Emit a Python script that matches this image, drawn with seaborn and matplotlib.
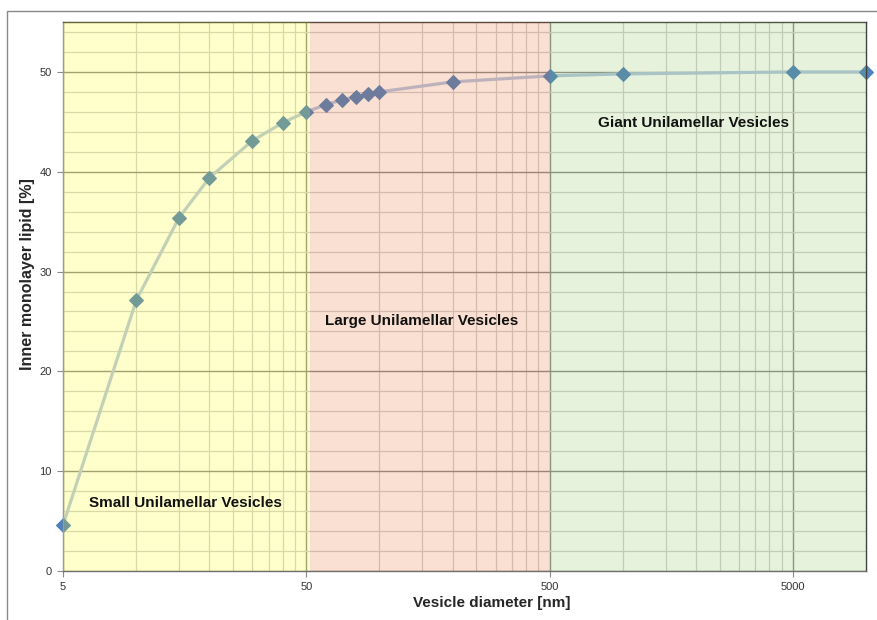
import matplotlib
matplotlib.use('Agg')
import matplotlib.pyplot as plt
from matplotlib.patches import Rectangle
from matplotlib.ticker import FixedLocator, NullFormatter
import seaborn as sns

# vesicle diameter [nm] and fraction of lipid in the inner monolayer [%]
diameter = [5, 10, 15, 20, 30, 40, 50, 60, 70, 80, 90, 100, 200, 500, 1000, 5000, 10000]
inner_lipid = [4.6, 27.1, 35.4, 39.4, 43.1, 44.9, 46.0, 46.7, 47.2, 47.5, 47.8, 48.0,
               49.0, 49.6, 49.8, 50.0, 50.0]

# size classes shaded on top of the curve
region_names = ['Small Unilamellar Vesicles', 'Large Unilamellar Vesicles', 'Giant Unilamellar Vesicles']
region_start = [5, 52, 500]
region_end = [52, 500, 10000]
region_colors = [(1.0, 1.0, 0.0), (230 / 255, 100 / 255, 30 / 255), (130 / 255, 190 / 255, 80 / 255)]
label_x = [16.0, 149, 1960]
label_y = [6.8, 25.0, 44.9]

x_major = [5, 50, 500, 5000]
y_major = [0, 10, 20, 30, 40, 50]


def main():
    sns.set_style('white')
    plt.rcParams['font.family'] = ['Liberation Sans', 'DejaVu Sans']

    fig = plt.figure(figsize=(8.78, 6.2), dpi=100)
    ax = fig.add_axes([63 / 878, 1 - 571 / 620, (866 - 63) / 878, (571 - 22) / 620])

    # grey frame of the chart area (cut off at right and bottom)
    fig.patches.append(Rectangle((7 / 878, -0.1), 1.2, 1 - 11 / 620 + 0.1, transform=fig.transFigure,
                                 fill=False, edgecolor='#8a8a8a', lw=1.0, clip_on=False))

    sns.lineplot(x=diameter, y=inner_lipid, ax=ax, color='#b4c6e4', lw=2.3,
                 marker='D', markersize=7.2, markerfacecolor='#4f81bd', markeredgecolor='#4f81bd',
                 clip_on=False, zorder=2)

    ax.set_xscale('log')
    ax.set_xlim(5, 10000)
    ax.set_ylim(0, 55)

    # excel-like log grid: lines at every 5*k within each decade
    x_minor = [5 * k * 10 ** n for n in range(4) for k in range(2, 10) if 5 * k * 10 ** n < 10000]
    ax.xaxis.set_major_locator(FixedLocator(x_major))
    ax.xaxis.set_minor_locator(FixedLocator(x_minor))
    ax.xaxis.set_minor_formatter(NullFormatter())
    ax.set_xticklabels([str(v) for v in x_major])
    ax.yaxis.set_major_locator(FixedLocator(y_major))
    ax.yaxis.set_minor_locator(FixedLocator(list(range(2, 56, 2))))

    ax.set_axisbelow(True)
    ax.grid(which='major', color='#8c8c8c', lw=1.0)
    ax.grid(which='minor', color='#d0d0d0', lw=0.9)
    ax.tick_params(which='major', direction='out', length=4, width=0.8, color='#8a8a8a',
                   labelsize=8, labelcolor='#333333', left=True, bottom=True, pad=4)
    ax.tick_params(which='minor', length=0)

    for s in ax.spines.values():
        s.set_color('#404040')
        s.set_linewidth(1.0)
    ax.spines['left'].set_color('#8a8a8a')
    ax.spines['bottom'].set_color('#707070')

    for name, x0, x1, c, lx, ly in zip(region_names, region_start, region_end, region_colors, label_x, label_y):
        ax.axvspan(x0, x1, color=c, alpha=0.2, lw=0, zorder=3)
        ax.text(lx, ly, name, ha='center', va='center', fontsize=11, fontweight='bold',
                color='#111111', zorder=4)

    ax.set_xlabel('Vesicle diameter [nm]', fontsize=11, fontweight='bold')
    ax.set_ylabel('Inner monolayer lipid [%]', fontsize=11.5, fontweight='bold')
    ax.xaxis.set_label_coords(0.534, -0.046)
    ax.yaxis.set_label_coords(-0.035, 0.541)

    fig.savefig('out.png', dpi=100)


if __name__ == '__main__':
    main()
